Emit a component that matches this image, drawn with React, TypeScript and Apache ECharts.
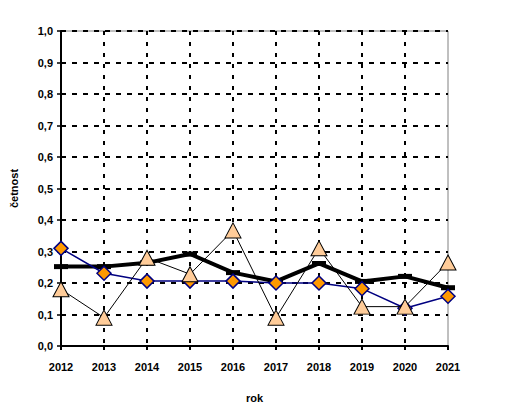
import React, { useEffect, useRef } from "react";
import * as echarts from "echarts";

const years = ["2012", "2013", "2014", "2015", "2016", "2017", "2018", "2019", "2020", "2021"];
const diamondSeries = [0.31, 0.231, 0.206, 0.206, 0.206, 0.2, 0.2, 0.182, 0.12, 0.158];
const triangleSeries = [0.18, 0.09, 0.28, 0.228, 0.367, 0.09, 0.31, 0.125, 0.125, 0.265];
const meanSeries = [0.252, 0.252, 0.264, 0.292, 0.233, 0.205, 0.262, 0.205, 0.221, 0.185];

const FONT = "Liberation Sans";

export default function App() {
  const ref = useRef<HTMLDivElement>(null);
  useEffect(() => {
    if (!ref.current) return;
    const chart = echarts.init(ref.current, undefined, { renderer: "svg" });
    chart.setOption({
      animation: false,
      backgroundColor: "#ffffff",
      grid: {
        left: 58,
        right: 61,
        top: 31,
        bottom: 54,
        show: true,
        borderColor: "#808080",
        borderWidth: 1,
      },
      xAxis: {
        type: "category",
        data: years,
        boundaryGap: false,
        name: "rok",
        nameLocation: "middle",
        nameGap: 46,
        nameTextStyle: { fontFamily: FONT, fontWeight: "bold", fontSize: 11, color: "#000" },
        axisLine: { lineStyle: { color: "#000", width: 2 } },
        axisTick: { show: true, length: 4, lineStyle: { color: "#000", width: 2 } },
        axisLabel: { fontFamily: FONT, fontWeight: "bold", fontSize: 11, color: "#000", margin: 15 },
        splitLine: {
          show: true,
          interval: (i: number) => i > 0 && i < years.length - 1,
          lineStyle: { color: "#000", width: 2, type: [4, 7] },
        },
      },
      yAxis: {
        type: "value",
        min: 0,
        max: 1,
        interval: 0.1,
        name: "četnost",
        nameLocation: "middle",
        nameGap: 42,
        nameRotate: 90,
        nameTextStyle: { fontFamily: FONT, fontWeight: "bold", fontSize: 11, color: "#000" },
        axisLine: { show: true, lineStyle: { color: "#000", width: 2 } },
        axisTick: { show: true, length: 4, lineStyle: { color: "#000", width: 1.5 } },
        axisLabel: {
          fontFamily: FONT,
          fontWeight: "bold",
          fontSize: 11,
          color: "#000",
          margin: 8,
          formatter: (v: number) => v.toFixed(1).replace(".", ","),
        },
        splitLine: { show: true, lineStyle: { color: "#000", width: 2, type: [5, 6] } },
      },
      series: [
        {
          type: "line",
          data: meanSeries,
          z: 2,
          symbol: "rect",
          symbolSize: [14, 5],
          itemStyle: { color: "#000" },
          lineStyle: { color: "#000", width: 4 },
        },
        {
          type: "line",
          data: diamondSeries,
          z: 3,
          symbol: "diamond",
          symbolSize: 14,
          itemStyle: { color: "#FF9900", borderColor: "#000080", borderWidth: 1.5 },
          lineStyle: { color: "#000080", width: 1.5 },
        },
        {
          type: "line",
          data: triangleSeries,
          z: 4,
          symbol: "triangle",
          symbolSize: [16, 15],
          itemStyle: { color: "#FFCC99", borderColor: "#000", borderWidth: 1 },
          lineStyle: { color: "#000", width: 1 },
        },
      ],
    });
    return () => chart.dispose();
  }, []);
  return <div ref={ref} style={{ width: 509, height: 408, position: "absolute", left: 0, top: 0 }} />;
}
